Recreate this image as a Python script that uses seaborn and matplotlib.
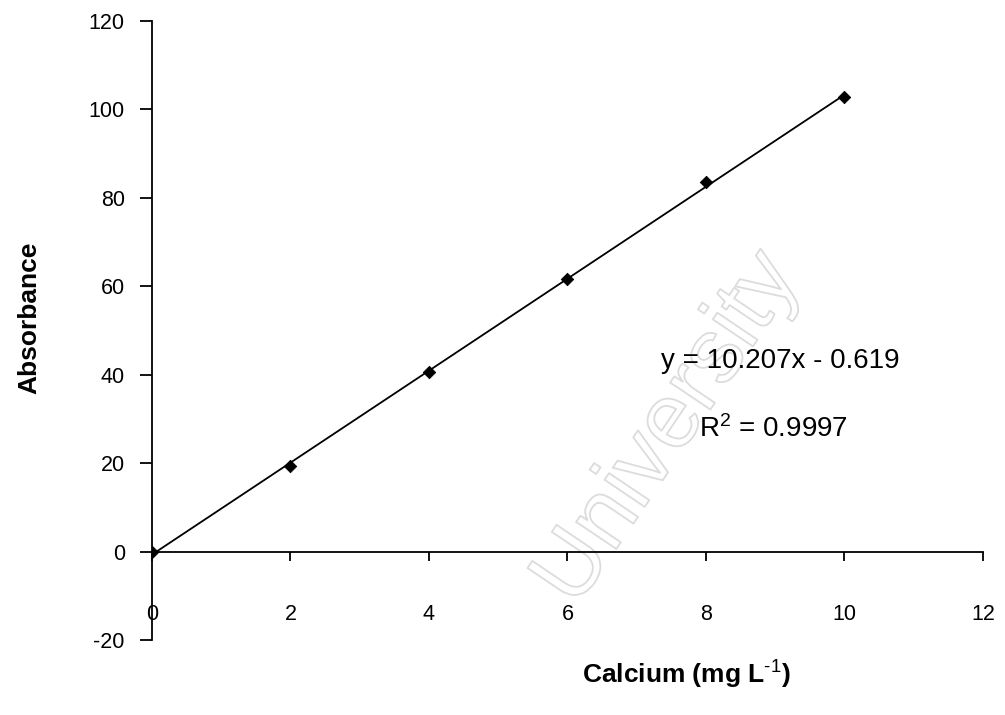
import matplotlib
matplotlib.use("Agg")
import matplotlib.pyplot as plt
import matplotlib.patheffects as pe
import seaborn as sns
import numpy as np

# Data
calcium = [0, 2, 4, 6, 8, 10]
absorbance = [0.0, 19.3, 40.6, 61.6, 83.5, 102.9]
x_ticks = [0, 2, 4, 6, 8, 10, 12]
y_ticks = [-20, 0, 20, 40, 60, 80, 100, 120]
equation_text = "y = 10.207x - 0.619"
r2_text = r"R$^{2}$ = 0.9997"
x_label = r"Calcium (mg L$^{\text{-1}}$)"
y_label = "Absorbance"
watermark = "University"

sns.set_theme(style="ticks")
plt.rcParams["font.family"] = ["Liberation Sans", "DejaVu Sans"]
plt.rcParams["mathtext.fontset"] = "custom"
plt.rcParams["mathtext.rm"] = "Liberation Sans:bold"
plt.rcParams["mathtext.bf"] = "Liberation Sans:bold"
plt.rcParams["mathtext.it"] = "Liberation Sans:italic"
plt.rcParams["axes.unicode_minus"] = False
plt.rcParams["text.color"] = "black"
plt.rcParams["axes.labelcolor"] = "black"

fig = plt.figure(figsize=(10.05, 7.15), dpi=100)

# faint scan watermark (outline only, behind the chart)
fig.text(0.665, 0.40, watermark, fontsize=66, rotation=56, ha="center", va="center",
         color="none", zorder=-10,
         path_effects=[pe.withStroke(linewidth=1.3, foreground="#dcdcdc")])

ax = fig.add_axes([0.1512, 0.1049, 0.8269, 0.8657])
ax.patch.set_alpha(0)

sns.regplot(x=calcium, y=absorbance, ax=ax, ci=None, truncate=True,
            color="black", marker="D",
            scatter_kws={"s": 40, "edgecolor": "black", "linewidths": 0.6, "alpha": 1},
            line_kws={"lw": 1.3, "color": "black"})

ax.set_xlim(0, 12)
ax.set_ylim(-20, 120)
ax.set_xticks(x_ticks)
ax.set_yticks(y_ticks)

ax.spines["top"].set_visible(False)
ax.spines["right"].set_visible(False)
ax.spines["bottom"].set_position(("data", 0))
for s in ("left", "bottom"):
    ax.spines[s].set_linewidth(1.3)
    ax.spines[s].set_color("black")

ax.tick_params(axis="y", direction="out", length=8.5, width=1.3, pad=11,
               labelsize=15.5, colors="black")
ax.tick_params(axis="x", direction="out", length=6.5, width=1.3, pad=31,
               labelsize=15.5, colors="black")

ax.set_xlabel(x_label, fontsize=19, fontweight="bold")
ax.set_ylabel(y_label, fontsize=19, fontweight="bold")
ax.xaxis.set_label_coords(0.643, -0.03)
ax.yaxis.set_label_coords(-0.133, 0.52)

plt.rcParams["mathtext.rm"] = "Liberation Sans"
ax.text(9.07, 43.2, equation_text, fontsize=20, ha="center", va="center")
ax.text(8.98, 27.6, r2_text, fontsize=20, ha="center", va="center")

fig.savefig("out.png", dpi=100)
